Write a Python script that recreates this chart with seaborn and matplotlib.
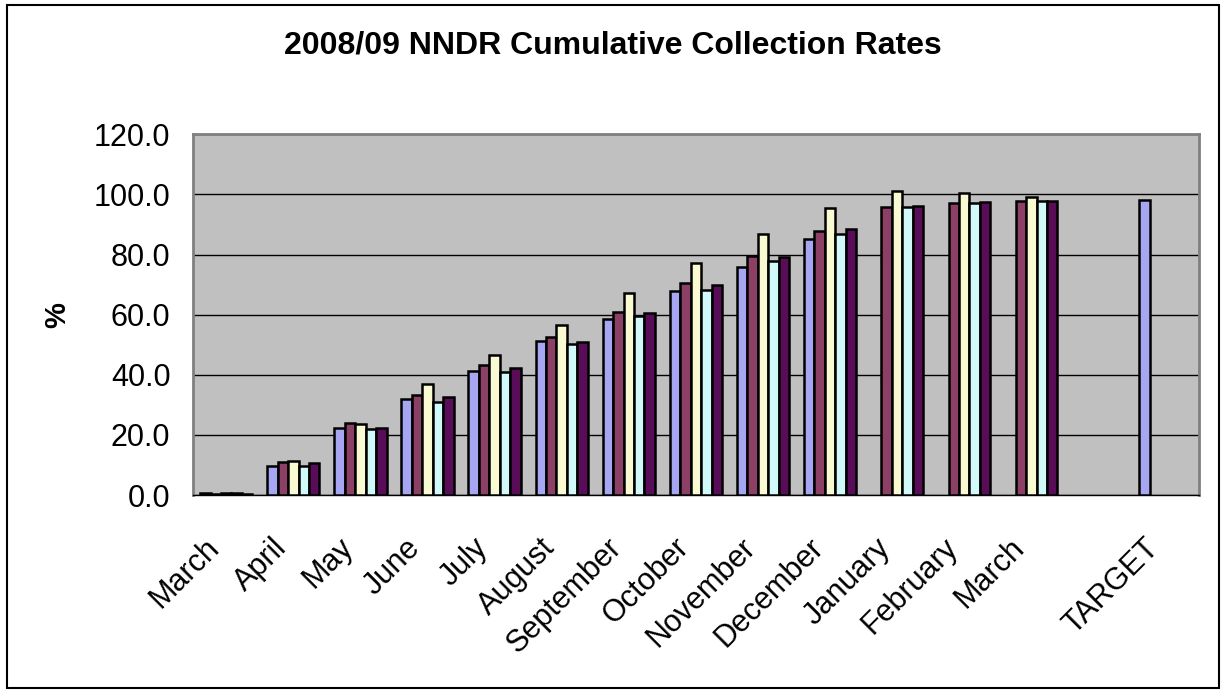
import numpy as np
import pandas as pd
import matplotlib
matplotlib.use("Agg")
import matplotlib.pyplot as plt
from matplotlib.patches import Rectangle
from matplotlib.transforms import ScaledTranslation
import seaborn as sns

# month keys must be unique (March appears twice), labels are what is shown
keys = ["Mar08", "Apr", "May", "Jun", "Jul", "Aug", "Sep", "Oct", "Nov", "Dec",
        "Jan", "Feb", "Mar09", "gap", "TARGET"]
labels = ["March", "April", "May", "June", "July", "August", "September", "October",
          "November", "December", "January", "February", "March", "", "TARGET"]

series = ["2008/09", "2007/08", "2006/07", "2005/06", "2004/05"]
nan = np.nan
s1 = [0.6, 9.6, 22.2, 31.9, 41.1, 51.1, 58.7, 68.0, 75.9, 85.3, nan, nan, nan, nan, 98.0]
s2 = [0.5, 10.9, 23.8, 33.4, 43.4, 52.5, 60.8, 70.6, 79.4, 87.9, 95.8, 97.1, 97.7, nan, nan]
s3 = [0.8, 11.4, 23.5, 37.0, 46.6, 56.5, 67.2, 77.3, 86.8, 95.5, 101.1, 100.3, 99.0, nan, nan]
s4 = [0.6, 9.6, 21.8, 30.9, 40.8, 50.1, 59.7, 68.3, 78.0, 86.8, 95.7, 97.3, 97.7, nan, nan]
s5 = [0.3, 10.6, 22.4, 32.5, 42.3, 50.9, 60.6, 69.9, 79.1, 88.4, 96.2, 97.6, 97.8, nan, nan]
colors = ["#9999FF", "#993366", "#FFFFCC", "#CCFFFF", "#660066"]

rows = []
for name, vals in zip(series, [s1, s2, s3, s4, s5]):
    for k, v in zip(keys, vals):
        rows.append({"month": k, "series": name, "value": v})
df = pd.DataFrame(rows)

sns.set_theme(style="white")
plt.rcParams["font.family"] = ["Liberation Sans", "DejaVu Sans"]
plt.rcParams["text.color"] = "black"
plt.rcParams["axes.labelcolor"] = "black"
plt.rcParams["xtick.color"] = "black"
plt.rcParams["ytick.color"] = "black"

fig = plt.figure(figsize=(12.25, 6.9), dpi=100)
ax = fig.add_axes([0.1573, 0.2826, 0.8215, 0.5228])
ax.set_facecolor("#C0C0C0")

sns.barplot(data=df, x="month", y="value", hue="series", order=keys, hue_order=series,
            palette=colors, width=0.78, edgecolor="black", linewidth=1.8,
            errorbar=None, legend=False, ax=ax, zorder=3)

ax.set_ylim(0, 120)
ax.set_yticks(np.arange(0, 121, 20))
ax.set_yticklabels([f"{v:.1f}" for v in np.arange(0, 121, 20)])
ax.set_xlim(-0.5, len(keys) - 0.5)
ax.set_xticks(np.arange(len(keys) + 1) - 0.5, minor=True)
ax.set_xticks(np.arange(len(keys)))
ax.set_xticklabels(labels, rotation=45, ha="right", rotation_mode="anchor", fontsize=22)
ax.tick_params(axis="x", which="major", length=0, pad=27)
ax.tick_params(axis="x", which="minor", length=7, width=1, color="black", direction="out")
ax.tick_params(axis="y", length=7, width=1, color="black", direction="out", labelsize=22, pad=9)
shift = ScaledTranslation(-22 / 100, 0, fig.dpi_scale_trans)
for lab in ax.get_xticklabels():
    lab.set_transform(lab.get_transform() + shift)
ax.yaxis.grid(True, color="black", linewidth=1)
ax.set_axisbelow(True)

for side in ["left", "top", "right"]:
    ax.spines[side].set_color("#808080")
    ax.spines[side].set_linewidth(2)
ax.spines["bottom"].set_color("black")
ax.spines["bottom"].set_linewidth(1)

ax.set_xlabel("")
ax.set_ylabel("%", fontsize=21, fontweight="bold", labelpad=16)

fig.text(0.5, 1 - 46 / 690, "2008/09 NNDR Cumulative Collection Rates", ha="center", va="center",
         fontsize=23, fontweight="bold")

fig.patches.append(Rectangle((7 / 1225, 2 / 690), 1212 / 1225, 683 / 690, transform=fig.transFigure,
                             fill=False, edgecolor="black", linewidth=1.5))

fig.savefig("out.png", dpi=100, facecolor="white")
